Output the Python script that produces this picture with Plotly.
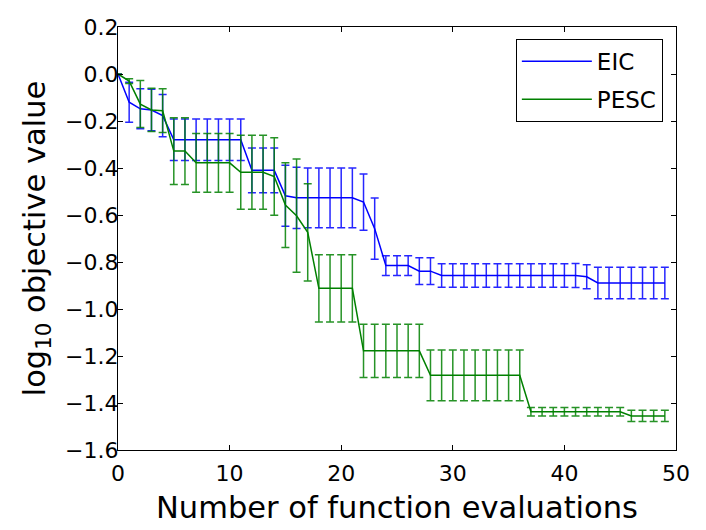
import plotly.graph_objects as go

# Data (x = number of function evaluations)
evals = list(range(50))

eic_mean = [0.0, -0.12, -0.148, -0.153, -0.177,
            -0.28, -0.28, -0.28, -0.28, -0.28, -0.28, -0.28,
            -0.41, -0.41, -0.41,
            -0.518,
            -0.527, -0.527, -0.527, -0.527, -0.527, -0.527,
            -0.545, -0.658,
            -0.815, -0.815, -0.815,
            -0.839, -0.839,
            -0.857, -0.857, -0.857, -0.857, -0.857, -0.857, -0.857,
            -0.857, -0.857, -0.857, -0.857, -0.857, -0.857,
            -0.863,
            -0.889, -0.889, -0.889, -0.889, -0.889, -0.889, -0.889]
eic_err = [0.0, 0.085, 0.085, 0.088, 0.09,
           0.088, 0.088, 0.088, 0.088, 0.088, 0.088, 0.088,
           0.095, 0.095, 0.095,
           0.13,
           0.13, 0.127, 0.127, 0.127, 0.127, 0.127,
           0.12, 0.13,
           0.042, 0.042, 0.042,
           0.057, 0.057,
           0.05, 0.05, 0.05, 0.05, 0.05, 0.05, 0.05,
           0.05, 0.05, 0.05, 0.05, 0.05, 0.051,
           0.051,
           0.067, 0.067, 0.067, 0.067, 0.067, 0.067, 0.067]

pesc_mean = [0.0, -0.03, -0.128, -0.153, -0.156,
             -0.328, -0.328,
             -0.378, -0.378, -0.378, -0.378,
             -0.418, -0.418, -0.418,
             -0.436, -0.558, -0.603, -0.674,
             -0.912, -0.912, -0.912, -0.912,
             -1.178, -1.178, -1.178, -1.178, -1.178, -1.178,
             -1.282, -1.282, -1.282, -1.282, -1.282, -1.282, -1.282, -1.282, -1.282,
             -1.437, -1.437, -1.437, -1.437, -1.437, -1.437, -1.437, -1.437, -1.437,
             -1.455, -1.455, -1.455, -1.455]
pesc_err = [0.0, 0.01, 0.1, 0.092, 0.093,
            0.142, 0.142,
            0.125, 0.125, 0.125, 0.125,
            0.157, 0.157, 0.157,
            0.165, 0.18, 0.241, 0.207,
            0.143, 0.143, 0.143, 0.143,
            0.113, 0.113, 0.113, 0.113, 0.113, 0.113,
            0.108, 0.108, 0.108, 0.108, 0.108, 0.108, 0.108, 0.108, 0.108,
            0.018, 0.018, 0.018, 0.018, 0.018, 0.018, 0.018, 0.018, 0.018,
            0.024, 0.024, 0.024, 0.024]

font_family = 'DejaVu Sans'

fig = go.Figure()

fig.add_trace(go.Scatter(x=evals, y=eic_mean,
                         mode='lines',
                         name='EIC', legendgroup='eic',
                         line=dict(color='#0000ff', width=1.5),
                         error_y=dict(type='data', array=eic_err, color='rgba(0,0,255,0.85)',
                                      thickness=1.5, width=4)))

fig.add_trace(go.Scatter(x=evals, y=pesc_mean,
                         mode='lines',
                         name='PESC', legendgroup='pesc',
                         line=dict(color='#008000', width=1.5),
                         error_y=dict(type='data', array=pesc_err, color='rgba(0,128,0,0.85)',
                                      thickness=1.5, width=4)))

axis_style = dict(showgrid=False, zeroline=False, showline=True, linecolor='black',
                  linewidth=1.2, mirror='allticks', ticks='inside', ticklen=5,
                  tickcolor='black', automargin=False,
                  tickfont=dict(family=font_family, size=22, color='black'))

# the page body adds an 8px offset, so margins are shifted to keep the plot box in place
fig.update_layout(width=706, height=530,
                  margin=dict(l=110, r=38, t=19, b=88),
                  paper_bgcolor='white', plot_bgcolor='white',
                  font=dict(family=font_family, color='black'),
                  xaxis=dict(range=[0, 50], dtick=10, ticklabelstandoff=3,
                             title=dict(text='Number of function evaluations',
                                        font=dict(size=30.5), standoff=12),
                             **axis_style),
                  yaxis=dict(range=[-1.6, 0.2], dtick=0.2, tickformat='.1f',
                             ticklabelstandoff=-6,
                             title=dict(text='log<sub>10</sub> objective value',
                                        font=dict(size=30.5), standoff=10),
                             **axis_style),
                  legend=dict(x=0.713, y=0.972, xanchor='left', yanchor='top',
                              bordercolor='black', borderwidth=1, bgcolor='white',
                              itemwidth=70, tracegroupgap=5,
                              font=dict(family=font_family, size=23)),
                  showlegend=True)

fig.write_html('out.html')
